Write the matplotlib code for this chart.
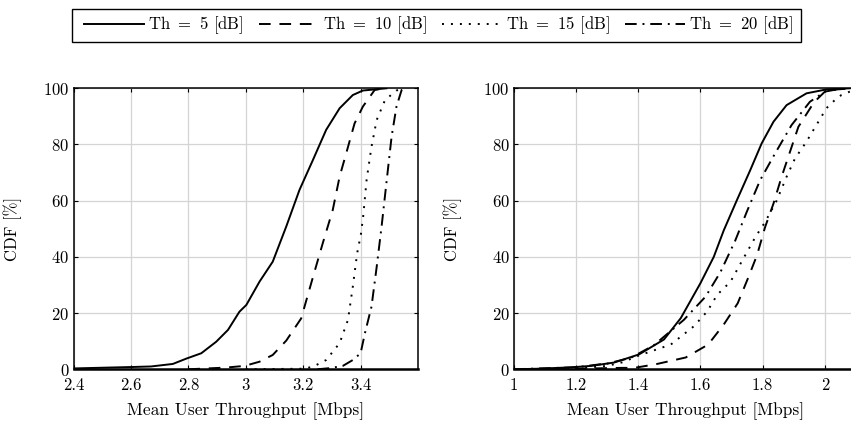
import matplotlib
matplotlib.use("Agg")
import matplotlib.pyplot as plt
from matplotlib.patches import Rectangle
from matplotlib.ticker import FuncFormatter

plt.rcParams["font.family"] = ["cmr10", "DejaVu Serif"]
plt.rcParams["mathtext.fontset"] = "cm"
plt.rcParams["axes.formatter.use_mathtext"] = True
plt.rcParams["font.size"] = 12

LABELS = ["Th $=$ 5 [dB]", "Th $=$ 10 [dB]", "Th $=$ 15 [dB]", "Th $=$ 20 [dB]"]
STYLES = ["-", (0, (6, 4.5)), (0, (1, 3.6)), (0, (6, 3, 1, 3))]

# left panel: CDF of mean user throughput
left_th5_x = [2.40, 2.60, 2.67, 2.746, 2.793, 2.845, 2.897, 2.938, 2.978, 3.002, 3.048,
              3.094, 3.141, 3.187, 3.234, 3.28, 3.327, 3.373, 3.408, 3.49]
left_th5_y = [0.3, 0.8, 1.0, 1.9, 3.8, 5.7, 9.8, 14.0, 20.5, 22.9, 31.2,
              38.3, 50.8, 63.8, 74.5, 85.2, 92.9, 97.6, 99.2, 100]
left_th10_x = [2.80, 2.93, 2.996, 3.048, 3.094, 3.141, 3.193, 3.234, 3.268, 3.303, 3.327,
               3.35, 3.379, 3.408, 3.449, 3.483]
left_th10_y = [0.0, 0.6, 1.2, 2.7, 5.1, 10.2, 18.1, 32.8, 44.8, 56.7, 68.6,
               76.9, 87.5, 93.5, 99.4, 100]
left_th15_x = [3.00, 3.20, 3.234, 3.28, 3.327, 3.356, 3.373, 3.388, 3.401, 3.409, 3.421,
               3.438, 3.456, 3.485, 3.525, 3.548]
left_th15_y = [0.0, 0.2, 0.9, 3.3, 9.3, 17.6, 29.5, 41.3, 48.0, 54.4, 67.5,
               79.2, 88.7, 95.8, 99.2, 100]
left_th20_x = [3.25, 3.292, 3.338, 3.373, 3.40, 3.415, 3.438, 3.456, 3.473, 3.491, 3.508,
               3.525, 3.543, 3.55]
left_th20_y = [0.0, 0.4, 1.2, 3.3, 5.7, 12.8, 22.3, 36.4, 50.7, 67.3, 82.8,
               93.5, 99.4, 100]

# right panel
right_th5_x = [1.00, 1.08, 1.186, 1.248, 1.323, 1.403, 1.483, 1.537, 1.60, 1.643, 1.675,
               1.717, 1.76, 1.797, 1.835, 1.877, 1.941, 2.005, 2.08]
right_th5_y = [0.0, 0.2, 0.7, 1.2, 2.4, 5.3, 10.6, 18.2, 30.6, 40.0, 49.4,
               60.1, 70.8, 80.4, 88.1, 94.0, 98.2, 99.6, 100]
right_th10_x = [1.00, 1.20, 1.30, 1.345, 1.388, 1.457, 1.553, 1.625, 1.675, 1.72, 1.753,
                1.782, 1.808, 1.835, 1.861, 1.888, 1.915, 1.965, 2.00, 2.04, 2.09]
right_th10_y = [0.0, 0.2, 0.4, 0.5, 0.5, 1.8, 4.2, 8.8, 15.9, 23.5, 32.4,
                40.6, 50.6, 59.0, 68.5, 77.4, 86.3, 95.0, 98.8, 99.6, 100]
right_th15_x = [1.00, 1.20, 1.30, 1.35, 1.40, 1.505, 1.579, 1.622, 1.654, 1.697, 1.729,
                1.777, 1.808, 1.845, 1.877, 1.904, 1.941, 1.957, 1.989, 2.005, 2.032,
                2.053, 2.08, 2.11]
right_th15_y = [0.0, 0.3, 1.2, 2.5, 4.8, 8.8, 15.3, 20.6, 26.5, 31.2, 37.6,
                47.1, 52.4, 60.0, 68.5, 75.0, 81.0, 84.0, 89.9, 92.9, 95.8,
                97.6, 98.8, 99.5]
right_th20_x = [1.00, 1.20, 1.28, 1.30, 1.377, 1.45, 1.547, 1.617, 1.665, 1.712, 1.749,
                1.792, 1.84, 1.893, 1.952, 2.00, 2.048]
right_th20_y = [0.0, 0.7, 1.8, 2.0, 4.1, 8.5, 17.6, 25.9, 34.7, 45.8, 56.0,
                67.3, 76.8, 86.9, 95.2, 98.8, 99.8]

LEFT = [(left_th5_x, left_th5_y), (left_th10_x, left_th10_y),
        (left_th15_x, left_th15_y), (left_th20_x, left_th20_y)]
RIGHT = [(right_th5_x, right_th5_y), (right_th10_x, right_th10_y),
         (right_th15_x, right_th15_y), (right_th20_x, right_th20_y)]


def _panel(ax, curves, xlim, xticks):
    for (x, y), ls, lab in zip(curves, STYLES, LABELS):
        ax.plot(x, y, color="black", lw=1.4, linestyle=ls, label=lab)
    ax.set_xlim(*xlim)
    ax.set_ylim(0, 100)
    ax.set_xticks(xticks)
    ax.set_yticks([0, 20, 40, 60, 80, 100])
    ax.xaxis.set_major_formatter(FuncFormatter(lambda v, p: f"{v:g}"))
    ax.grid(True, color="#d4d4d4", lw=0.9)
    ax.set_axisbelow(True)
    ax.tick_params(direction="in", top=True, right=True, length=3, width=0.8,
                   labelsize=12)
    ax.tick_params(axis="x", pad=6)
    ax.tick_params(axis="y", pad=3)
    for s in ax.spines.values():
        s.set_linewidth(1.1)
    ax.spines["bottom"].set_linewidth(1.8)
    ax.set_xlabel("Mean User Throughput [Mbps]", fontsize=12.5, labelpad=7)
    ax.set_ylabel("CDF [%]", fontsize=12)
    ax.yaxis.set_label_coords(-0.149, 0.5)


fig = plt.figure(figsize=(8.51, 4.23), dpi=100)
ax1 = fig.add_axes([0.0864, 0.127, 0.4048, 0.6643])
ax2 = fig.add_axes([0.6036, 0.127, 0.4048, 0.6643])
_panel(ax1, LEFT, (2.4, 3.6), [2.4, 2.6, 2.8, 3.0, 3.2, 3.4])
_panel(ax2, RIGHT, (1.0, 2.107), [1.0, 1.2, 1.4, 1.6, 1.8, 2.0])

# legend row centred in a fixed box at the top
h, l = ax1.get_legend_handles_labels()
W, H = 851, 423
fig.legend(h, l, ncol=4, loc="center", bbox_to_anchor=(438.5 / W, 1 - 25.5 / H),
           borderaxespad=0, borderpad=0, frameon=False, fontsize=12,
           handlelength=3.6, handletextpad=0.25, columnspacing=0.92)
fig.patches.append(Rectangle((72 / W, 1 - 42 / H), 729 / W, 33 / H,
                             transform=fig.transFigure, fill=False,
                             edgecolor="black", lw=1.0))

fig.savefig("out.png", dpi=100)
